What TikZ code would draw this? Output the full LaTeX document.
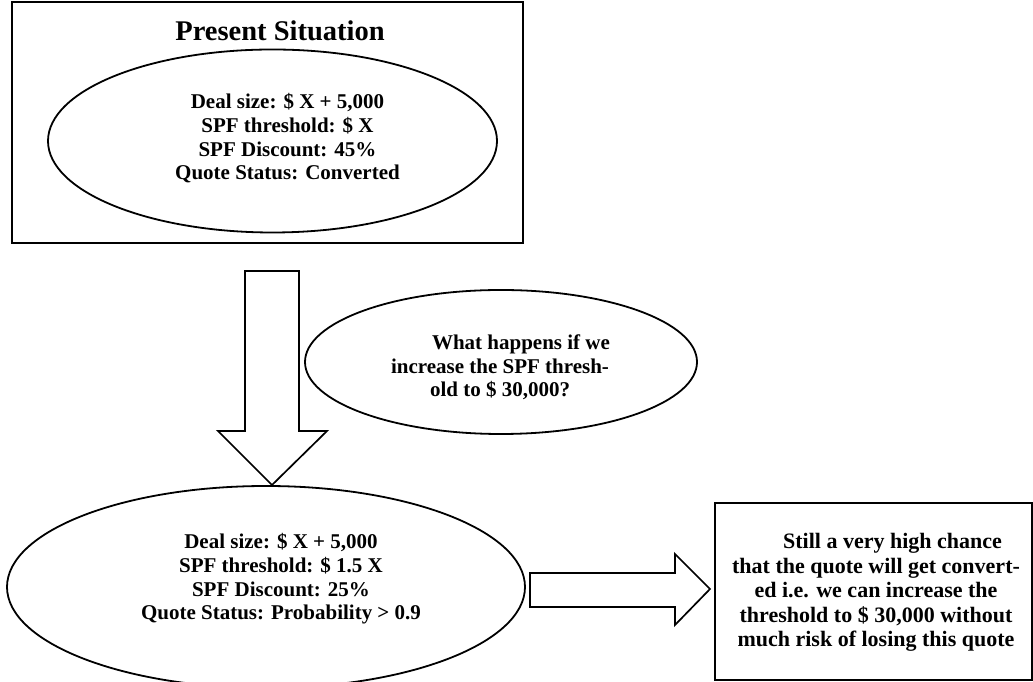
\documentclass[tikz,border=0pt]{standalone}
\usepackage{fontspec}
\setmainfont{Liberation Serif}
\usetikzlibrary{shapes.geometric}

\tikzset{
  frame/.style={draw, line width=2.2pt, rectangle, inner sep=0pt},
  oval/.style={draw, line width=1.8pt, ellipse, inner sep=0pt},
  says/.style={align=center, font=\fontsize{21}{23.7}\selectfont\bfseries},
  blockarrow/.style={draw, line width=1.7pt, line join=miter, fill=white}
}

\begin{document}
\begin{tikzpicture}[x=1pt,y=1pt]
\useasboundingbox (0,0) rectangle (1033,682);
\clip (0,0) rectangle (1033,682);

% present situation
\node[frame, minimum width=511, minimum height=241] (now) at (267.5,559.5) {};
\node[font=\fontsize{28.5}{31}\selectfont\bfseries] (nowtitle) at (280,651) {Present Situation};
\node[oval, minimum width=449, minimum height=183] (nowoval) at (272.5,541) {};
\node[says] (nowtext) at (287.5,543.5) {Deal size: \$ X + 5,000\\SPF threshold: \$ X\\SPF Discount: 45\%\\Quote Status: Converted};

% the question
\node[oval, minimum width=392, minimum height=144] (ask) at (501,320) {};
\node[says] (asktext) at (500,314.5) {\hspace*{42pt}What happens if we\\increase the SPF thresh-\\old to \$ 30,000?};

% after the change
\node[oval, minimum width=518, minimum height=202] (low) at (266,95) {};
\node[says] (lowtext) at (281,103) {Deal size: \$ X + 5,000\\SPF threshold: \$ 1.5 X\\SPF Discount: 25\%\\Quote Status: Probability > 0.9};

\node[frame, line width=2pt, minimum width=317, minimum height=177] (result) at (873.5,90.5) {};
\node[says, font=\fontsize{22}{24.5}\selectfont\bfseries] (resulttext) at (876,89.5) {\hspace*{33pt}Still a very high chance\\that the quote will get convert-\\ed i.e. we can increase the\\threshold to \$ 30,000 without\\much risk of losing this quote};

% block arrows
\coordinate (downtip) at (272,197);
\coordinate (righttip) at (710,93);
\draw[blockarrow] (downtip) -- ++(-54,54) -- ++(27,0) -- ++(0,160) -- ++(54,0)
  -- ++(0,-160) -- ++(28,0) -- cycle;
\draw[blockarrow] (righttip) -- ++(-35,35) -- ++(0,-19) -- ++(-145,0) -- ++(0,-34)
  -- ++(145,0) -- ++(0,-18) -- cycle;
\end{tikzpicture}
\end{document}
